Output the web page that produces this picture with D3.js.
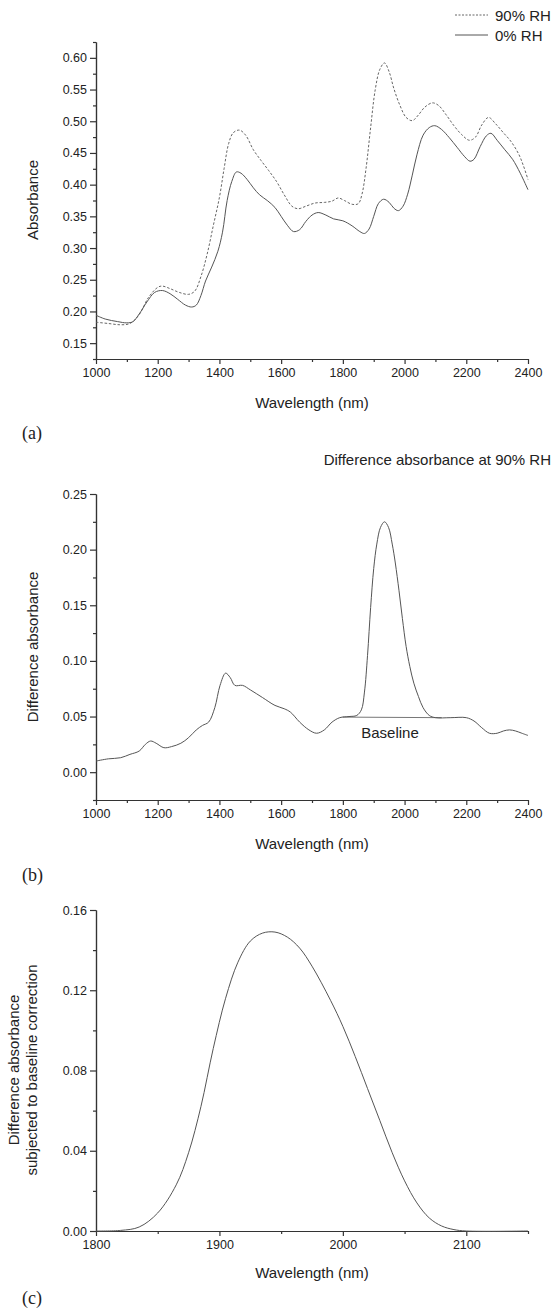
<!DOCTYPE html>
<html>
<head>
<meta charset="utf-8">
<script src="https://cdn.jsdelivr.net/npm/d3@7"></script>
<style>
  body { margin: 0; background: #fff; }
  text { font-family: "Liberation Sans", Arial, sans-serif; fill: #222; }
  .axis path, .axis line { stroke: #333; stroke-width: 1.2; }
  .axis text { font-size: 12.5px; fill: #222; }
</style>
</head>
<body>
<svg id="chart" width="553" height="1313"></svg>
<script>
/* panel (a) - absorbance, two humidity levels */
const rh90Wl = [1000, 1040, 1080, 1110, 1140, 1170, 1200, 1215, 1240, 1270, 1300, 1320, 1340, 1360, 1380, 1400, 1415, 1430, 1445, 1465, 1485, 1510, 1535, 1560, 1585, 1610, 1635, 1655, 1680, 1710, 1740, 1765, 1785, 1805, 1830, 1850, 1862, 1875, 1890, 1905, 1920, 1935, 1950, 1965, 1985, 2005, 2025, 2045, 2065, 2090, 2110, 2135, 2160, 2185, 2210, 2230, 2250, 2272, 2295, 2320, 2345, 2370, 2385, 2400];
const rh90Abs = [0.183, 0.181, 0.179, 0.181, 0.195, 0.222, 0.238, 0.240, 0.236, 0.230, 0.227, 0.232, 0.255, 0.290, 0.335, 0.380, 0.425, 0.465, 0.482, 0.486, 0.478, 0.455, 0.438, 0.422, 0.405, 0.384, 0.366, 0.362, 0.366, 0.371, 0.372, 0.374, 0.379, 0.375, 0.369, 0.370, 0.385, 0.425, 0.490, 0.550, 0.582, 0.592, 0.578, 0.552, 0.525, 0.506, 0.501, 0.510, 0.522, 0.529, 0.525, 0.510, 0.493, 0.479, 0.470, 0.475, 0.494, 0.506, 0.496, 0.482, 0.468, 0.448, 0.430, 0.408];
const rh0Wl = [1000, 1030, 1070, 1100, 1120, 1140, 1165, 1190, 1215, 1240, 1265, 1290, 1310, 1325, 1340, 1355, 1375, 1395, 1410, 1425, 1440, 1455, 1470, 1490, 1510, 1530, 1555, 1580, 1600, 1620, 1640, 1660, 1680, 1700, 1720, 1745, 1770, 1800, 1830, 1855, 1870, 1885, 1900, 1915, 1932, 1950, 1965, 1980, 1995, 2010, 2025, 2040, 2060, 2080, 2098, 2120, 2145, 2170, 2195, 2212, 2225, 2245, 2265, 2280, 2300, 2325, 2350, 2375, 2400];
const rh0Abs = [0.194, 0.188, 0.184, 0.182, 0.184, 0.196, 0.215, 0.230, 0.233, 0.228, 0.219, 0.210, 0.207, 0.210, 0.225, 0.248, 0.270, 0.295, 0.325, 0.375, 0.405, 0.420, 0.418, 0.408, 0.395, 0.384, 0.375, 0.364, 0.350, 0.336, 0.326, 0.329, 0.342, 0.352, 0.356, 0.352, 0.346, 0.343, 0.335, 0.326, 0.323, 0.330, 0.350, 0.370, 0.377, 0.372, 0.363, 0.359, 0.366, 0.385, 0.415, 0.447, 0.478, 0.490, 0.493, 0.487, 0.474, 0.459, 0.444, 0.437, 0.440, 0.460, 0.477, 0.481, 0.470, 0.455, 0.440, 0.418, 0.392];

/* panel (b) - difference absorbance at 90% RH */
const diffWl = [1000, 1040, 1080, 1110, 1140, 1160, 1177, 1195, 1220, 1245, 1275, 1300, 1325, 1345, 1365, 1385, 1402, 1420, 1435, 1450, 1475, 1500, 1540, 1580, 1610, 1630, 1660, 1690, 1715, 1740, 1765, 1790, 1820, 1845, 1860, 1870, 1880, 1890, 1900, 1910, 1922, 1935, 1948, 1960, 1970, 1982, 1993, 2005, 2017, 2030, 2045, 2060, 2080, 2100, 2150, 2200, 2225, 2250, 2275, 2300, 2320, 2340, 2360, 2380, 2400];
const diffAbs = [0.010, 0.012, 0.013, 0.016, 0.019, 0.025, 0.028, 0.026, 0.022, 0.023, 0.026, 0.031, 0.038, 0.042, 0.045, 0.058, 0.078, 0.089, 0.085, 0.078, 0.078, 0.074, 0.067, 0.060, 0.057, 0.054, 0.045, 0.038, 0.035, 0.038, 0.045, 0.049, 0.050, 0.051, 0.056, 0.072, 0.105, 0.148, 0.183, 0.205, 0.220, 0.225, 0.220, 0.205, 0.188, 0.163, 0.138, 0.113, 0.095, 0.080, 0.068, 0.058, 0.051, 0.049, 0.049, 0.049, 0.046, 0.040, 0.035, 0.035, 0.037, 0.038, 0.037, 0.035, 0.033];
const baselineWl = [1800, 2120];
const baselineAbs = [0.0495, 0.049];

/* panel (c) - after baseline correction */
const corrWl = [1800, 1820, 1835, 1850, 1865, 1875, 1885, 1895, 1905, 1915, 1925, 1935, 1945, 1955, 1965, 1975, 1990, 2000, 2010, 2020, 2030, 2040, 2050, 2060, 2070, 2080, 2090, 2100, 2150];
const corrAbs = [0, 0.0003, 0.002, 0.009, 0.023, 0.039, 0.062, 0.091, 0.116, 0.134, 0.1445, 0.1485, 0.149, 0.1465, 0.141, 0.132, 0.115, 0.102, 0.087, 0.071, 0.055, 0.039, 0.025, 0.014, 0.0065, 0.0025, 0.0007, 0, 0];

const svg = d3.select('#chart');
const zip = (xs, ys) => xs.map((d, i) => ({ x: d, y: ys[i] }));

/* draws an axis pair with long labelled ticks and short minor ticks */
function drawAxes (x, y, xMajor, xMinor, yMajor, yMinor, xFmt, yFmt) {
  const base = y.range()[0];
  const left = x.range()[0];
  svg.append('g').attr('class', 'axis').attr('transform', 'translate(0,' + base + ')')
    .call(d3.axisBottom(x).tickValues(xMinor).tickSize(3).tickSizeOuter(0).tickFormat(''));
  svg.append('g').attr('class', 'axis').attr('transform', 'translate(0,' + base + ')')
    .call(d3.axisBottom(x).tickValues(xMajor).tickSize(5).tickSizeOuter(0).tickPadding(4).tickFormat(xFmt));
  svg.append('g').attr('class', 'axis').attr('transform', 'translate(' + left + ',0)')
    .call(d3.axisLeft(y).tickValues(yMinor).tickSize(3).tickSizeOuter(0).tickFormat(''));
  svg.append('g').attr('class', 'axis').attr('transform', 'translate(' + left + ',0)')
    .call(d3.axisLeft(y).tickValues(yMajor).tickSize(6).tickSizeOuter(0).tickPadding(3).tickFormat(yFmt));
}

function label (txt, x, y, opts) {
  const t = svg.append('text').attr('x', x).attr('y', y).text(txt)
    .attr('font-size', (opts && opts.size) || 15)
    .attr('text-anchor', (opts && opts.anchor) || 'middle')
    .attr('dominant-baseline', 'central');
  if (opts && opts.rotate) t.attr('transform', 'rotate(-90,' + x + ',' + y + ')');
  if (opts && opts.serif) t.style('font-family', '"Liberation Serif", "Times New Roman", serif');
  return t;
}

const smooth = d3.curveCatmullRom.alpha(0.5);

/* ---------- (a) ---------- */
const xA = d3.scaleLinear().domain([1000, 2400]).range([96, 528]);
const yA = d3.scaleLinear().domain([0.125, 0.625]).range([359, 42]);
drawAxes(xA, yA,
  d3.range(1000, 2401, 200), d3.range(1100, 2400, 200),
  d3.range(0.15, 0.601, 0.05), d3.range(0.125, 0.626, 0.05),
  d3.format('d'), d3.format('.2f'));
const lineA = d3.line().x(d => xA(d.x)).y(d => yA(d.y)).curve(smooth);
svg.append('path').datum(zip(rh90Wl, rh90Abs)).attr('d', lineA)
  .attr('fill', 'none').attr('stroke', '#666').attr('stroke-width', 1).attr('stroke-dasharray', '2.5,1.8');
svg.append('path').datum(zip(rh0Wl, rh0Abs)).attr('d', lineA)
  .attr('fill', 'none').attr('stroke', '#555').attr('stroke-width', 1);
label('Absorbance', 32, 200, { rotate: true });
label('Wavelength (nm)', 312, 402);
label('(a)', 22, 433, { anchor: 'start', size: 18, serif: true });

/* legend */
svg.append('line').attr('x1', 455).attr('x2', 488).attr('y1', 15).attr('y2', 15)
  .attr('stroke', '#666').attr('stroke-dasharray', '2,1.5');
svg.append('line').attr('x1', 455).attr('x2', 488).attr('y1', 35).attr('y2', 35)
  .attr('stroke', '#555');
label('90% RH', 495, 15, { anchor: 'start' });
label('0% RH', 495, 35, { anchor: 'start' });

/* ---------- (b) ---------- */
const xB = d3.scaleLinear().domain([1000, 2400]).range([96, 528]);
const yB = d3.scaleLinear().domain([-0.025, 0.25]).range([800, 494]);
drawAxes(xB, yB,
  d3.range(1000, 2401, 200), d3.range(1100, 2400, 200),
  d3.range(0, 0.251, 0.05), d3.range(-0.025, 0.25, 0.05),
  d3.format('d'), d3.format('.2f'));
const lineB = d3.line().x(d => xB(d.x)).y(d => yB(d.y)).curve(smooth);
svg.append('path').datum(zip(baselineWl, baselineAbs)).attr('d', lineB)
  .attr('fill', 'none').attr('stroke', '#777').attr('stroke-width', 1);
svg.append('path').datum(zip(diffWl, diffAbs)).attr('d', lineB)
  .attr('fill', 'none').attr('stroke', '#555').attr('stroke-width', 1);
label('Difference absorbance at 90% RH', 551, 459, { anchor: 'end' });
label('Baseline', 390, 732);
label('Difference absorbance', 32, 647, { rotate: true });
label('Wavelength (nm)', 312, 843);
label('(b)', 22, 875, { anchor: 'start', size: 18, serif: true });

/* ---------- (c) ---------- */
const xC = d3.scaleLinear().domain([1800, 2150]).range([96, 528]);
const yC = d3.scaleLinear().domain([0, 0.16]).range([1231, 910]);
drawAxes(xC, yC,
  d3.range(1800, 2101, 100), d3.range(1850, 2151, 100),
  d3.range(0, 0.161, 0.04), d3.range(0.02, 0.16, 0.04),
  d3.format('d'), d3.format('.2f'));
const lineC = d3.line().x(d => xC(d.x)).y(d => yC(d.y)).curve(smooth);
svg.append('path').datum(zip(corrWl, corrAbs)).attr('d', lineC)
  .attr('fill', 'none').attr('stroke', '#555').attr('stroke-width', 1);
label('Difference absorbance', 13, 1070, { rotate: true });
label('subjected to baseline correction', 31, 1070, { rotate: true });
label('Wavelength (nm)', 312, 1272);
label('(c)', 22, 1298, { anchor: 'start', size: 18, serif: true });
</script>
</body>
</html>
